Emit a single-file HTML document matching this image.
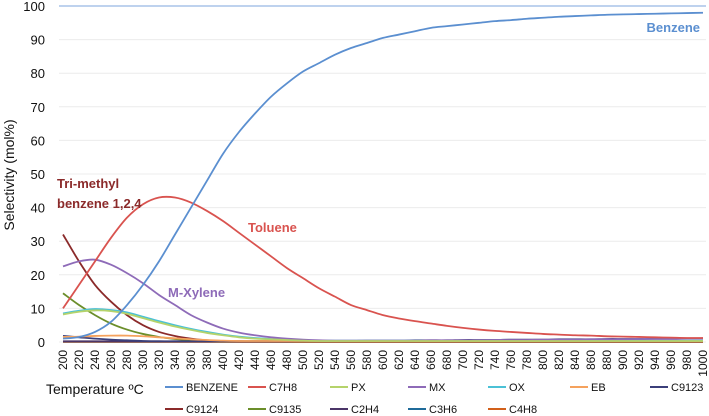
<!DOCTYPE html>
<html><head><meta charset="utf-8"><style>
body{margin:0;background:#fff;}
svg{display:block;font-family:"Liberation Sans",sans-serif;}
</style></head><body>
<svg id="c" width="709" height="416"></svg>
<script>
const temps=[];for(let t=200;t<=1000;t+=20)temps.push(t);
const yTicks=[0,10,20,30,40,50,60,70,80,90,100];
const benzene=[1,1.5,3,6,11,17,24,32,40,48,56,62.5,68,73,77,80.5,83,85.5,87.5,89,90.5,91.5,92.5,93.5,94,94.5,95,95.5,95.8,96.2,96.5,96.8,97,97.2,97.4,97.5,97.6,97.7,97.8,97.9,98];
const c7h8=[10,17,24,31,37,41,43,43,41.5,39,36,32.5,29,25.5,22,19,16,13.5,11,9.5,8,7,6.2,5.5,4.8,4.2,3.7,3.3,3,2.7,2.4,2.2,2,1.9,1.7,1.6,1.5,1.4,1.3,1.2,1.2];
const mx=[22.5,24,24.5,23,20.5,17.5,14,11,8,5.8,4,2.8,2,1.4,1,0.7,0.5,0.4,0.4,0.4,0.4,0.4,0.4,0.5,0.5,0.5,0.5,0.6,0.6,0.6,0.7,0.7,0.7,0.8,0.8,0.8,0.9,0.9,0.9,1,1];
const c9124=[32,24,17,12,8,5,3,1.8,1,0.5,0.3,0.2,0.2,0.2,0.2,0.2,0.2,0.2,0.2,0.2,0.2,0.2,0.2,0.2,0.2,0.2,0.2,0.2,0.2,0.2,0.2,0.2,0.2,0.2,0.2,0.2,0.2,0.2,0.2,0.2,0.2];
const c9135=[14.5,11,8,5.5,3.7,2.4,1.5,0.9,0.5,0.3,0.2,0.2,0.2,0.2,0.2,0.2,0.2,0.2,0.2,0.2,0.2,0.2,0.2,0.2,0.2,0.2,0.2,0.2,0.2,0.2,0.2,0.2,0.2,0.2,0.2,0.2,0.2,0.2,0.2,0.2,0.2];
const ox=[8.5,9.3,9.8,9.5,8.8,7.5,6.2,5,3.9,3,2.2,1.6,1.2,0.9,0.7,0.5,0.4,0.4,0.4,0.4,0.4,0.4,0.4,0.4,0.4,0.4,0.4,0.4,0.4,0.4,0.4,0.4,0.4,0.4,0.4,0.4,0.4,0.4,0.4,0.4,0.4];
const px=[8.2,9,9.4,9.2,8.4,7.1,5.8,4.6,3.6,2.7,2,1.4,1,0.8,0.6,0.4,0.3,0.3,0.3,0.3,0.3,0.3,0.3,0.3,0.3,0.3,0.3,0.3,0.3,0.3,0.3,0.3,0.3,0.3,0.3,0.3,0.3,0.3,0.3,0.3,0.3];
const eb=[1.5,1.6,1.8,1.9,1.9,1.7,1.4,1.1,0.8,0.6,0.4,0.3,0.3,0.3,0.3,0.3,0.3,0.3,0.3,0.3,0.3,0.3,0.3,0.3,0.3,0.3,0.3,0.3,0.3,0.3,0.3,0.3,0.3,0.3,0.3,0.3,0.3,0.3,0.3,0.3,0.3];
const c9123=[1.8,1.4,1,0.7,0.5,0.3,0.2,0.2,0.2,0.2,0.2,0.2,0.2,0.2,0.2,0.3,0.3,0.3,0.3,0.4,0.4,0.4,0.5,0.5,0.5,0.6,0.6,0.6,0.7,0.7,0.7,0.8,0.8,0.8,0.9,0.9,0.9,1,1,1,1.1];
const c2h4=temps.map(()=>0.2);
const c3h6=temps.map(()=>0.15);
const c4h8=temps.map(()=>0);
const series=[
 {name:"BENZENE",d:benzene,c:"#5b8fd0"},{name:"C7H8",d:c7h8,c:"#d9534f"},{name:"PX",d:px,c:"#b5d36b"},
 {name:"MX",d:mx,c:"#8e6bb8"},{name:"OX",d:ox,c:"#4bc1d6"},{name:"EB",d:eb,c:"#f5a25d"},{name:"C9123",d:c9123,c:"#3b3f7a"},
 {name:"C9124",d:c9124,c:"#8b2a2a"},{name:"C9135",d:c9135,c:"#6b8e2a"},{name:"C2H4",d:c2h4,c:"#4b3568"},
 {name:"C3H6",d:c3h6,c:"#1f6b9a"},{name:"C4H8",d:c4h8,c:"#d2601a"}];
const NS="http://www.w3.org/2000/svg",svg=document.getElementById('c');
const X0=63,X1=703,Y0=342,Y1=6;
const xs=t=>X0+(t-200)/800*(X1-X0), ys=v=>Y0-v/100*(Y0-Y1);
function el(tag,a,txt){const e=document.createElementNS(NS,tag);for(const k in a)e.setAttribute(k,a[k]);if(txt!=null)e.textContent=txt;svg.appendChild(e);return e;}
function smooth(pts){let d="M"+pts[0][0]+","+pts[0][1];
 for(let i=0;i<pts.length-1;i++){const p0=pts[i-1]||pts[i],p1=pts[i],p2=pts[i+1],p3=pts[i+2]||p2;
  d+=` C${p1[0]+(p2[0]-p0[0])/6},${p1[1]+(p2[1]-p0[1])/6} ${p2[0]-(p3[0]-p1[0])/6},${p2[1]-(p3[1]-p1[1])/6} ${p2[0]},${p2[1]}`;}
 return d;}
yTicks.forEach(v=>{
 const g=el('line',{x1:59,x2:706,y1:ys(v),y2:ys(v),stroke:v==100?"#a9c4e8":"#ececec","stroke-width":v==100?1.5:1});
 
 
 const t=el('text',{x:45,y:ys(v)+5,"text-anchor":"end","font-size":13,fill:"#111"},v);
 
 
});
temps.forEach(t=>{
 const e=el('text',{transform:`translate(${xs(t)+4},350) rotate(-90)`,"text-anchor":"end","font-size":12,fill:"#111"},t);
 
 
});
const yt=el('text',{transform:"translate(14,175) rotate(-90)","text-anchor":"middle","font-size":14,fill:"#111"},"Selectivity (mol%)");


for(let i=series.length-1;i>=0;i--){const s=series[i];
 const p=el('path',{d:smooth(s.d.map((v,j)=>[xs(temps[j]),ys(v)])),fill:"none",stroke:s.c,"stroke-width":1.8});
 
 
}
[["Benzene",700,32,"#5b8fd0","end"],["Toluene",248,232,"#d9534f","start"],["M-Xylene",168,297,"#8e6bb8","start"],["Tri-methyl",57,188,"#8b2a2a","start"],["benzene 1,2,4",57,208,"#8b2a2a","start"]].forEach(a=>{
 const e=el('text',{x:a[1],y:a[2],"font-size":13,"font-weight":"bold",fill:a[3],"text-anchor":a[4]},a[0]);
 
 
});
const xt=el('text',{x:46,y:394,"font-size":14,fill:"#111"},"Temperature ºC");


const lx=[165,248,330,408,488,570,650];
series.forEach((s,i)=>{
 const row=i<7?0:1,col=i<7?i:i-7,y=row?409:387,x=lx[col];
 const l=el('line',{x1:x,x2:x+18,y1:y,y2:y,stroke:s.c,"stroke-width":2});
 
 
 const t=el('text',{x:x+21,y:y+4,"font-size":11,fill:"#111"},s.name);
 
 
});
</script>
</body></html>
